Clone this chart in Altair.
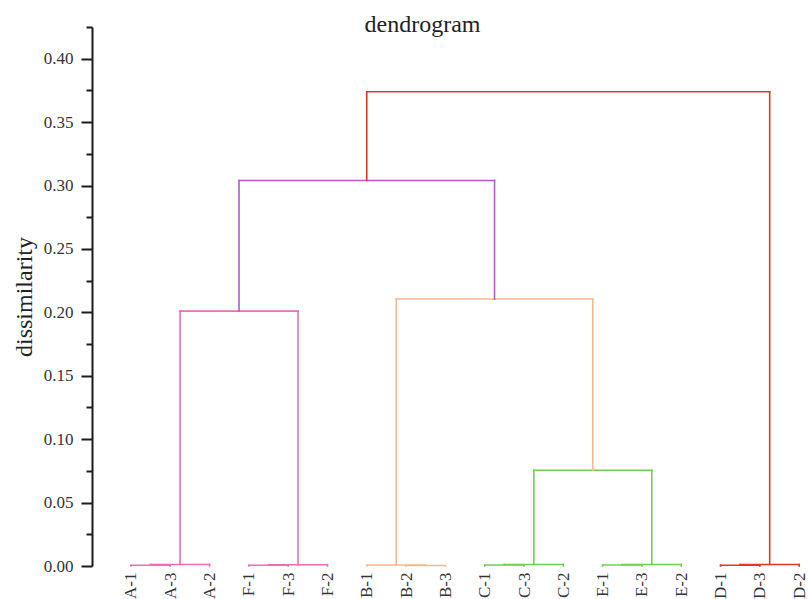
import altair as alt
import pandas as pd

# Leaf labels in dendrogram order
leaves = ["A-1", "A-3", "A-2", "F-1", "F-3", "F-2", "B-1", "B-2", "B-3",
          "C-1", "C-3", "C-2", "E-1", "E-3", "E-2", "D-1", "D-3", "D-2"]

# Linkage: node ids 0..17 are leaves, merge k creates node 18 + k
merge_left = [0, 18, 3, 20, 7, 6, 9, 24, 12, 26, 15, 28, 25, 23, 19, 32, 33]
merge_right = [1, 2, 4, 5, 8, 22, 10, 11, 13, 14, 16, 17, 27, 30, 21, 31, 29]
merge_height = [0.0006, 0.0012, 0.0006, 0.0010, 0.0004, 0.0008, 0.0008, 0.0012,
                0.0008, 0.0012, 0.0006, 0.0012, 0.0755, 0.2105, 0.201, 0.304, 0.374]
merge_group = ["pink", "pink", "pink", "pink", "peach", "peach", "green", "green",
               "green", "green", "red", "red", "green", "peach", "pink", "purple", "red"]

group_names = ["pink", "peach", "green", "red", "purple"]
group_colors = ["#f26bb5", "#f7b98c", "#6fcf4f", "#e2362c", "#ad5cc6"]

# Node positions: leaves at their index, merged nodes at the mean of their children
pos = {i: float(i) for i in range(len(leaves))}
hgt = {i: 0.0 for i in range(len(leaves))}
segments = []
for k, (a, b, h, g) in enumerate(zip(merge_left, merge_right, merge_height, merge_group)):
    node = len(leaves) + k
    xa, xb = pos[a], pos[b]
    segments.append({"x": xa, "x2": xa, "y": hgt[a], "y2": h, "group": g})
    segments.append({"x": xa, "x2": xb, "y": h, "y2": h, "group": g})
    segments.append({"x": xb, "x2": xb, "y": hgt[b], "y2": h, "group": g})
    pos[node] = (xa + xb) / 2
    hgt[node] = h

df = pd.DataFrame(segments)

serif = "Liberation Serif"
label_js = "[" + ",".join("'%s'" % s for s in leaves) + "]"
y_ticks = [round(i * 0.025, 3) for i in range(18)]
is_major = "round(datum.value*1000) % 50 == 0"

chart = alt.Chart(df).mark_rule(strokeWidth=1.6, strokeCap="square").encode(
    x=alt.X("x:Q",
            scale=alt.Scale(domain=[-0.99, 17.25], nice=False, zero=False),
            axis=alt.Axis(values=list(range(len(leaves))),
                          labelExpr=label_js + "[datum.value]",
                          labelAngle=270, labelFont=serif, labelFontSize=17,
                          labelColor="#333333", labelPadding=6,
                          labelOverlap=False, labelBound=False, labelFlush=False,
                          domain=False, ticks=False, grid=False, title=None)),
    x2="x2:Q",
    y=alt.Y("y:Q",
            scale=alt.Scale(domain=[0, 0.425], nice=False, zero=True),
            axis=alt.Axis(values=y_ticks,
                          labelExpr=is_major + " ? format(datum.value, '.2f') : ''",
                          tickSize={"condition": {"test": is_major, "value": 11}, "value": 6},
                          tickWidth=2, tickColor="#1a1a1a",
                          domainWidth=2, domainColor="#1a1a1a",
                          labelFont=serif, labelFontSize=17, labelColor="#333333",
                          labelPadding=8, grid=False,
                          title="dissimilarity", titleFont=serif, titleFontSize=24,
                          titleFontWeight="normal", titleColor="#222222", titlePadding=7)),
    y2="y2:Q",
    color=alt.Color("group:N", scale=alt.Scale(domain=group_names, range=group_colors), legend=None),
).properties(
    width=717,
    height=539,
    autosize=alt.AutoSizeParams(type="none"),
    padding={"left": 92, "top": 27, "right": 0, "bottom": 33},
    title=alt.TitleParams("dendrogram", font=serif, fontSize=24, fontWeight="normal",
                          color="#222222", dx=-28, offset=-11),
).configure_view(stroke=None)

chart.save("out.html", embed_options={"renderer": "svg", "actions": False})
